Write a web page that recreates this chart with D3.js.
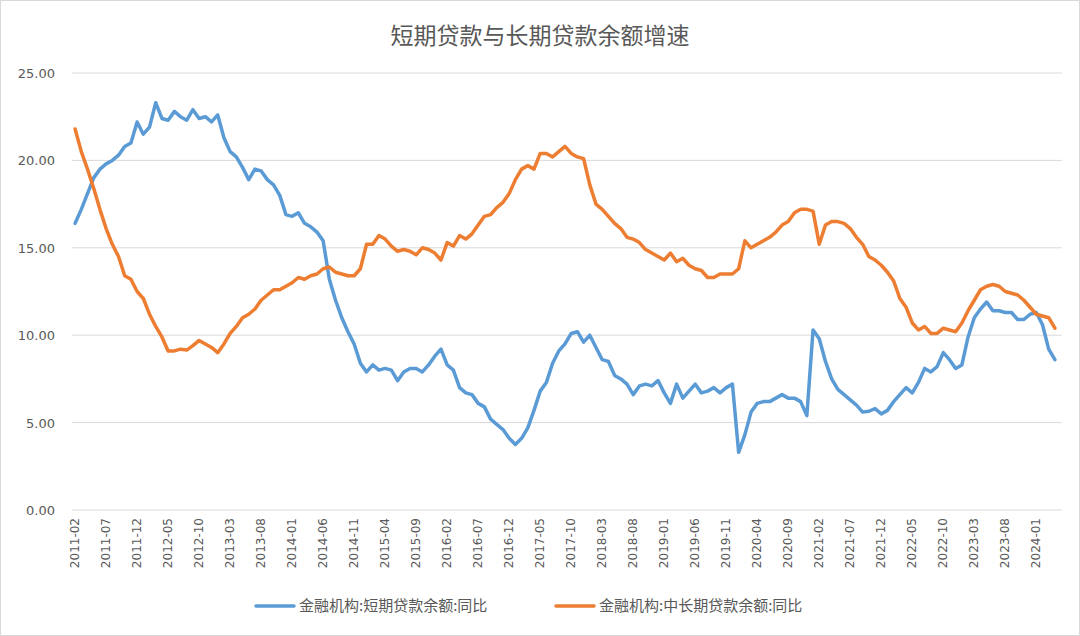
<!DOCTYPE html>
<html><head><meta charset="utf-8">
<script src="https://cdn.jsdelivr.net/npm/d3@7"></script>
<style>body{margin:0;background:#fff}svg{font-family:"Noto Sans CJK SC","DejaVu Sans",sans-serif}</style>
</head><body><svg id="c" width="1080" height="636"></svg>
<script>
const startYear = 2011, startMonth = 2;
const shortLoans = [16.4,17.2,18.1,19.0,19.5,19.8,20.0,20.3,20.8,21.0,22.2,21.5,21.9,23.3,22.4,22.3,22.8,22.5,22.3,22.9,22.4,22.5,22.2,22.6,21.3,20.5,20.2,19.6,18.9,19.5,19.4,18.9,18.6,18.0,16.9,16.8,17.0,16.4,16.2,15.9,15.4,13.2,12.0,11.0,10.2,9.5,8.4,7.9,8.3,8.0,8.1,8.0,7.4,7.9,8.1,8.1,7.9,8.3,8.8,9.2,8.3,8.0,7.0,6.7,6.6,6.1,5.9,5.2,4.9,4.6,4.1,3.75,4.1,4.7,5.7,6.8,7.3,8.4,9.1,9.5,10.1,10.2,9.6,10.0,9.3,8.6,8.5,7.7,7.5,7.2,6.6,7.1,7.2,7.1,7.4,6.7,6.1,7.2,6.4,6.8,7.2,6.7,6.8,7.0,6.7,7.0,7.2,3.3,4.3,5.6,6.1,6.2,6.2,6.4,6.6,6.4,6.4,6.2,5.4,10.3,9.8,8.5,7.5,6.9,6.6,6.3,6.0,5.6,5.65,5.8,5.5,5.7,6.2,6.6,7.0,6.7,7.3,8.1,7.9,8.2,9.0,8.6,8.1,8.3,9.9,11.0,11.5,11.9,11.4,11.4,11.3,11.3,10.9,10.9,11.2,11.3,10.6,9.2,8.6];
const longLoans = [21.8,20.5,19.5,18.4,17.2,16.1,15.2,14.5,13.4,13.2,12.5,12.1,11.2,10.5,9.9,9.1,9.1,9.2,9.15,9.4,9.7,9.5,9.3,9.0,9.5,10.1,10.5,11.0,11.2,11.5,12.0,12.3,12.6,12.6,12.8,13.0,13.3,13.2,13.4,13.5,13.8,13.9,13.6,13.5,13.4,13.4,13.8,15.2,15.2,15.7,15.5,15.1,14.8,14.9,14.8,14.6,15.0,14.9,14.7,14.3,15.3,15.1,15.7,15.5,15.8,16.3,16.8,16.9,17.3,17.6,18.1,18.9,19.5,19.7,19.5,20.4,20.4,20.2,20.5,20.8,20.4,20.2,20.1,18.6,17.5,17.2,16.8,16.4,16.1,15.6,15.5,15.3,14.9,14.7,14.5,14.3,14.7,14.2,14.4,14.0,13.8,13.7,13.3,13.3,13.5,13.5,13.5,13.8,15.4,15.0,15.2,15.4,15.6,15.9,16.3,16.5,17.0,17.2,17.2,17.1,15.2,16.3,16.5,16.5,16.4,16.1,15.6,15.2,14.5,14.3,14.0,13.6,13.1,12.1,11.6,10.7,10.3,10.5,10.1,10.1,10.4,10.3,10.2,10.7,11.4,12.0,12.6,12.8,12.9,12.8,12.5,12.4,12.3,12.0,11.6,11.2,11.1,11.0,10.4];
const yTicks = [0,5,10,15,20,25];
const seriesNames = ["金融机构:短期贷款余额:同比","金融机构:中长期贷款余额:同比"];
const colors = ["#5B9BD5","#ED7D31"];
const title = "短期贷款与长期贷款余额增速";

const months = shortLoans.map((_, i) => {
  const t = startMonth - 1 + i;
  const y = startYear + Math.floor(t / 12), m = t % 12 + 1;
  return y + "-" + String(m).padStart(2, "0");
});
const svg = d3.select("#c");
svg.append("rect").attr("x",0.5).attr("y",0.5).attr("width",1079).attr("height",635).attr("fill","#fff").attr("stroke","#d9d9d9");
const x = d3.scalePoint().domain(months).range([72,1058]).padding(0.5);
const y = d3.scaleLinear().domain([0,25]).range([510,73]);

svg.append("text").attr("x",540).attr("y",44).attr("text-anchor","middle").attr("font-size",23).attr("fill","#595959").text(title);

const g = svg.append("g");
g.selectAll("line.grid").data(yTicks).join("line").attr("x1",72).attr("x2",1062)
  .attr("y1",d=>y(d)).attr("y2",d=>y(d)).attr("stroke","#d9d9d9").attr("stroke-width",1);
g.selectAll("text.yl").data(yTicks).join("text").attr("x",55).attr("y",d=>y(d)+5)
  .attr("text-anchor","end").attr("font-size",13).attr("fill","#595959").attr("font-family","DejaVu Sans, sans-serif").text(d=>d.toFixed(2));

const tickMonths = months.filter((_, i) => i % 5 === 0);
g.selectAll("text.xl").data(tickMonths).join("text")
  .attr("transform",d=>`translate(${x(d)+4},518) rotate(-90)`)
  .attr("text-anchor","end").attr("font-size",12).attr("fill","#595959").attr("font-family","DejaVu Sans, sans-serif").text(d=>d);

const line = d3.line().x((d,i)=>x(months[i])).y(d=>y(d));
[shortLoans,longLoans].forEach((s,k)=>{
  g.append("path").attr("d",line(s)).attr("fill","none").attr("stroke",colors[k])
   .attr("stroke-width",3.5).attr("stroke-linejoin","round").attr("stroke-linecap","round");
});

const lx = [256, 556];
seriesNames.forEach((n,k)=>{
  svg.append("line").attr("x1",lx[k]).attr("x2",lx[k]+38).attr("y1",606).attr("y2",606).attr("stroke",colors[k]).attr("stroke-width",3.5).attr("stroke-linecap","round");
  svg.append("text").attr("x",lx[k]+43).attr("y",611).attr("font-size",15).attr("fill","#595959").text(n);
});
</script></body></html>
